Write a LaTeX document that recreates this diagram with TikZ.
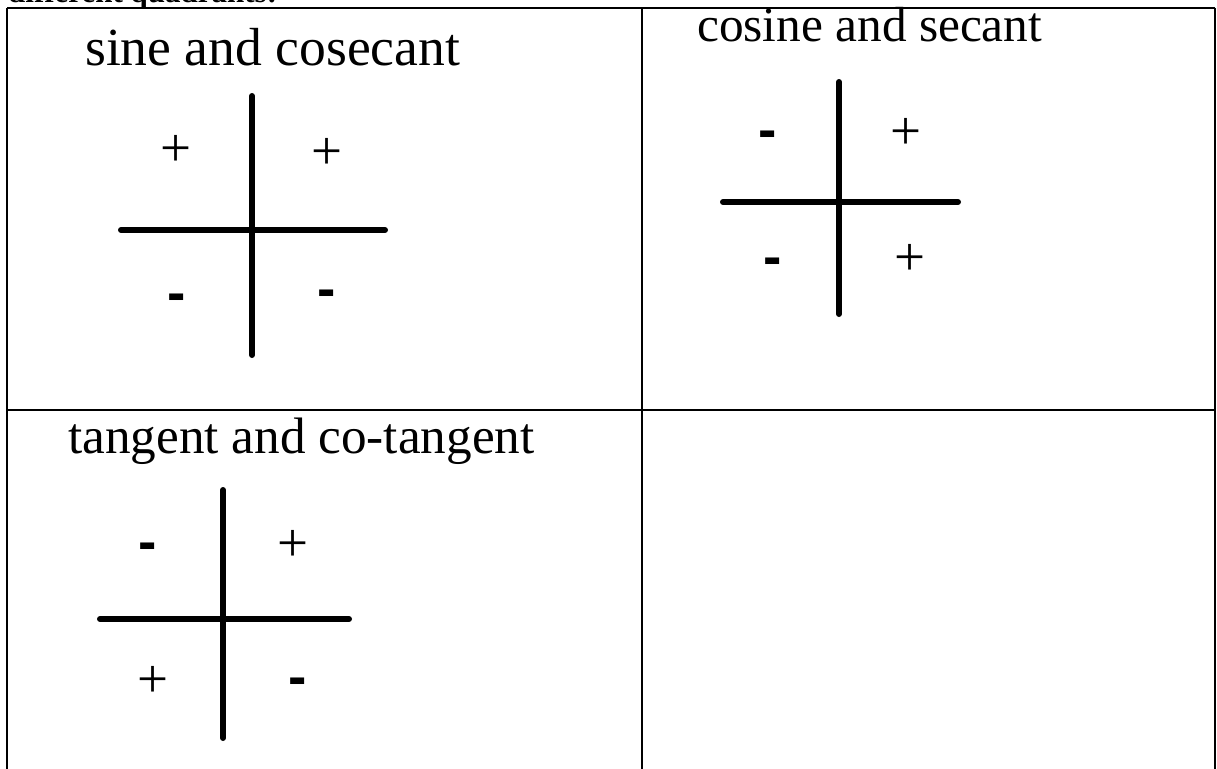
\documentclass[tikz,border=0pt]{standalone}
\usepackage{fontspec}
\setmainfont{Liberation Serif}
\newfontfamily\minusfont{Liberation Sans}
\begin{document}
\begin{tikzpicture}[x=1pt,y=-1pt,
  frame/.style={line width=2pt,black},
  axis/.style={line width=6pt,line cap=round,black},
  title/.style={inner sep=0pt,anchor=base west},
  plussign/.style={inner sep=0pt,font=\fontsize{55}{55}\selectfont},
  minussign/.style={inner sep=0pt,anchor=base,font=\minusfont\bfseries\fontsize{55}{55}\selectfont}]
\useasboundingbox (0,0) rectangle (1217,768);
\clip (0,0) rectangle (1217,768);
\fill[white] (0,0) rectangle (1217,768);
% cut-off header text
\node[title,font=\bfseries\fontsize{31}{31}\selectfont] (hdr) at (8,3) {different quadrants:};
% table
\coordinate (tl) at (7,8);
\coordinate (tm) at (642,8);
\coordinate (tr) at (1215,8);
\coordinate (ml) at (7,410);
\coordinate (mr) at (1215,410);
\coordinate (bl) at (7,770);
\coordinate (bm) at (642,770);
\coordinate (br) at (1215,770);
\draw[frame] (tl) -- (tr);
\draw[frame] (ml) -- (mr);
\draw[frame] (tl) -- (bl);
\draw[frame] (tm) -- (bm);
\draw[frame] (tr) -- (br);
% titles
\node[title,font=\fontsize{53.6}{60}\selectfont] (t1) at (85,65) {sine and cosecant};
\node[title,font=\fontsize{49.3}{56}\selectfont] (t2) at (697,41.7) {cosine and secant};
\node[title,font=\fontsize{51.2}{58}\selectfont] (t3) at (68,453) {tangent and co-tangent};
% cross 1
\coordinate (c1t) at (252,96);
\coordinate (c1b) at (252,355);
\coordinate (c1l) at (121,230);
\coordinate (c1r) at (385,230);
\draw[axis] (c1t) -- (c1b);
\draw[axis] (c1l) -- (c1r);
\node[plussign] (p11) at (176,151) {+};
\node[plussign] (p12) at (327,154) {+};
\node[minussign] (m11) at (177,311) {-};
\node[minussign] (m12) at (327,307) {-};
% cross 2
\coordinate (c2t) at (839,82);
\coordinate (c2b) at (839,314);
\coordinate (c2l) at (723,202);
\coordinate (c2r) at (958,202);
\draw[axis] (c2t) -- (c2b);
\draw[axis] (c2l) -- (c2r);
\node[minussign] (m21) at (768,148) {-};
\node[plussign] (p21) at (906,134) {+};
\node[minussign] (m22) at (773,275) {-};
\node[plussign] (p22) at (910,260) {+};
% cross 3
\coordinate (c3t) at (223,490);
\coordinate (c3b) at (223,738);
\coordinate (c3l) at (100,619);
\coordinate (c3r) at (349,619);
\draw[axis] (c3t) -- (c3b);
\draw[axis] (c3l) -- (c3r);
\node[minussign] (m31) at (148,560) {-};
\node[plussign] (p31) at (293,546) {+};
\node[plussign] (p32) at (153,682) {+};
\node[minussign] (m32) at (298,695) {-};
\end{tikzpicture}
\end{document}
